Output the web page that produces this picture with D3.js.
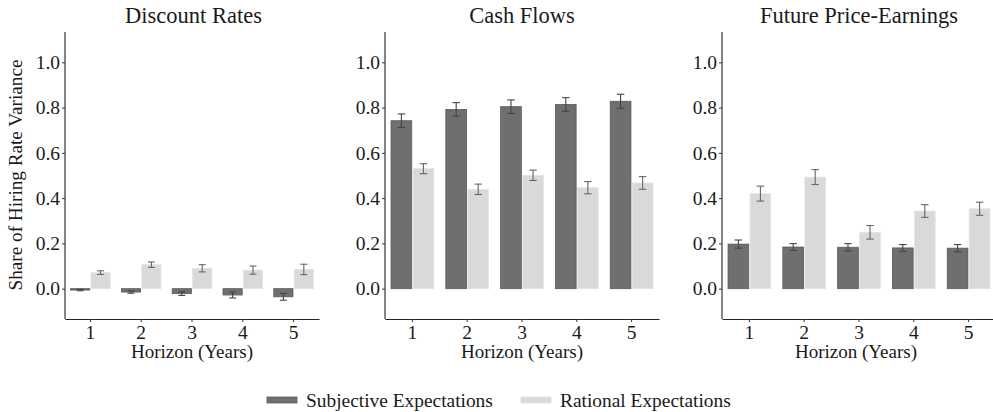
<!DOCTYPE html>
<html lang="en">
  <head>
    <meta charset="UTF-8" />
    <title>Share of Hiring Rate Variance</title>
    <script src="https://d3js.org/d3.v7.min.js"></script>
    <style>
      body { margin: 0; background: #fff; }
      text { font-family: 'Liberation Serif', 'Times New Roman', serif; fill: #1a1a1a; }
    </style>
  </head>
  <body>
    <svg width="993" height="412"></svg>
    <script>
      // data
      var horizons = ['1', '2', '3', '4', '5']
      var seriesNames = ['Subjective Expectations', 'Rational Expectations']
      var panelTitles = ['Discount Rates', 'Cash Flows', 'Future Price-Earnings']

      var discountSubj = [-0.006, -0.015, -0.022, -0.028, -0.036]
      var discountSubjErr = [0.003, 0.005, 0.008, 0.013, 0.015]
      var discountRat = [0.071, 0.106, 0.090, 0.082, 0.085]
      var discountRatErr = [0.008, 0.012, 0.016, 0.018, 0.023]

      var cashSubj = [0.742, 0.792, 0.804, 0.814, 0.828]
      var cashSubjErr = [0.030, 0.030, 0.030, 0.030, 0.031]
      var cashRat = [0.530, 0.439, 0.501, 0.446, 0.467]
      var cashRatErr = [0.022, 0.023, 0.023, 0.027, 0.028]

      var peSubj = [0.197, 0.184, 0.183, 0.180, 0.179]
      var peSubjErr = [0.018, 0.015, 0.016, 0.015, 0.016]
      var peRat = [0.420, 0.493, 0.249, 0.343, 0.353]
      var peRatErr = [0.033, 0.033, 0.030, 0.028, 0.029]

      var yTicks = [0, 0.2, 0.4, 0.6, 0.8, 1.0]

      var panels = [
        { title: panelTitles[0], subj: discountSubj, subjErr: discountSubjErr, rat: discountRat, ratErr: discountRatErr, x0: 65, w: 254 },
        { title: panelTitles[1], subj: cashSubj, subjErr: cashSubjErr, rat: cashRat, ratErr: cashRatErr, x0: 385, w: 274 },
        { title: panelTitles[2], subj: peSubj, subjErr: peSubjErr, rat: peRat, ratErr: peRatErr, x0: 722, w: 274 }
      ]

      var colors = ['#6f6f6f', '#d9d9d9']
      var strokes = ['#5a5a5a', '#e4e4e4']
      var plotTop = 32, plotBottom = 319

      var svg = d3.select('svg')

      var y = d3.scaleLinear().domain([-0.134, 1.134]).range([plotBottom, plotTop])

      panels.forEach(function(p, pi) {
        var g = svg.append('g')

        var x = d3.scaleBand().domain(horizons).range([p.x0, p.x0 + p.w]).padding(0)
        var step = x.bandwidth()
        var inner = d3.scaleBand().domain(seriesNames)
          .range([-0.39 * step, 0.39 * step]).paddingInner(0.06)

        var rows = []
        horizons.forEach(function(h, i) {
          rows.push({ h: h, s: 0, v: p.subj[i], e: p.subjErr[i] })
          rows.push({ h: h, s: 1, v: p.rat[i], e: p.ratErr[i] })
        })

        // bars
        g.selectAll('rect.bar')
          .data(rows)
          .enter()
          .append('rect')
          .attr('class', 'bar')
          .attr('x', d => x(d.h) + step / 2 + inner(seriesNames[d.s]))
          .attr('width', inner.bandwidth())
          .attr('y', d => y(Math.max(0, d.v)))
          .attr('height', d => Math.abs(y(d.v) - y(0)))
          .attr('fill', d => colors[d.s])
          .attr('stroke', d => strokes[d.s])
          .attr('stroke-width', 0.8)

        // error bars
        var cap = inner.bandwidth() * 0.18
        var eb = g.selectAll('g.err')
          .data(rows)
          .enter()
          .append('g')
          .attr('class', 'err')
          .attr('stroke', d => d.s === 0 ? '#444' : '#666')
          .attr('stroke-width', 1.1)
        var cx = d => x(d.h) + step / 2 + inner(seriesNames[d.s]) + inner.bandwidth() / 2
        eb.append('line')
          .attr('x1', cx).attr('x2', cx)
          .attr('y1', d => y(d.v - d.e)).attr('y2', d => y(d.v + d.e))
        eb.append('line')
          .attr('x1', d => cx(d) - cap).attr('x2', d => cx(d) + cap)
          .attr('y1', d => y(d.v - d.e)).attr('y2', d => y(d.v - d.e))
        eb.append('line')
          .attr('x1', d => cx(d) - cap).attr('x2', d => cx(d) + cap)
          .attr('y1', d => y(d.v + d.e)).attr('y2', d => y(d.v + d.e))

        // axes
        var yAxis = g.append('g')
          .attr('transform', `translate(${p.x0}, 0)`)
          .call(d3.axisLeft(y).tickValues(yTicks).tickFormat(d3.format('.1f')).tickSize(3).tickPadding(2).tickSizeOuter(0))
        yAxis.select('.domain').attr('d', `M0,${plotTop}V${plotBottom}`)

        var xAxis = g.append('g')
          .attr('transform', `translate(0, ${plotBottom})`)
          .call(d3.axisBottom(x).tickSize(3).tickPadding(3).tickSizeOuter(0))

        g.selectAll('.domain').attr('stroke', '#222').attr('stroke-width', 1.1)
        g.selectAll('.tick line').attr('stroke', '#333')
        g.selectAll('.tick text')
          .style('font-family', "'Liberation Serif', 'Times New Roman', serif")
          .style('font-size', '19.5px')
          .attr('fill', '#1a1a1a')

        g.append('text')
          .attr('x', p.x0 + (pi === 0 ? 128.5 : p.w / 2))
          .attr('y', 23)
          .attr('text-anchor', 'middle')
          .style('font-size', '22.5px')
          .text(p.title)

        g.append('text')
          .attr('x', p.x0 + p.w / 2 + (pi === 2 ? -3 : 0))
          .attr('y', 358)
          .attr('text-anchor', 'middle')
          .style('font-size', '19px')
          .text('Horizon (Years)')
      })

      // y axis title
      svg.append('text')
        .attr('transform', 'translate(22, 175) rotate(-90)')
        .attr('text-anchor', 'middle')
        .style('font-size', '19.2px')
        .text('Share of Hiring Rate Variance')

      // legend
      var legendX = [267, 521]
      var legend = svg.selectAll('g.legend')
        .data(seriesNames)
        .enter()
        .append('g')
        .attr('class', 'legend')
        .attr('transform', (d, i) => `translate(${legendX[i]}, 397)`)
      legend.append('rect')
        .attr('width', 30).attr('height', 6)
        .attr('fill', (d, i) => colors[i])
        .attr('stroke', (d, i) => strokes[i])
        .attr('stroke-width', 0.8)
      legend.append('text')
        .attr('x', 39).attr('y', 10)
        .style('font-size', '19.4px')
        .text(d => d)
    </script>
  </body>
</html>
